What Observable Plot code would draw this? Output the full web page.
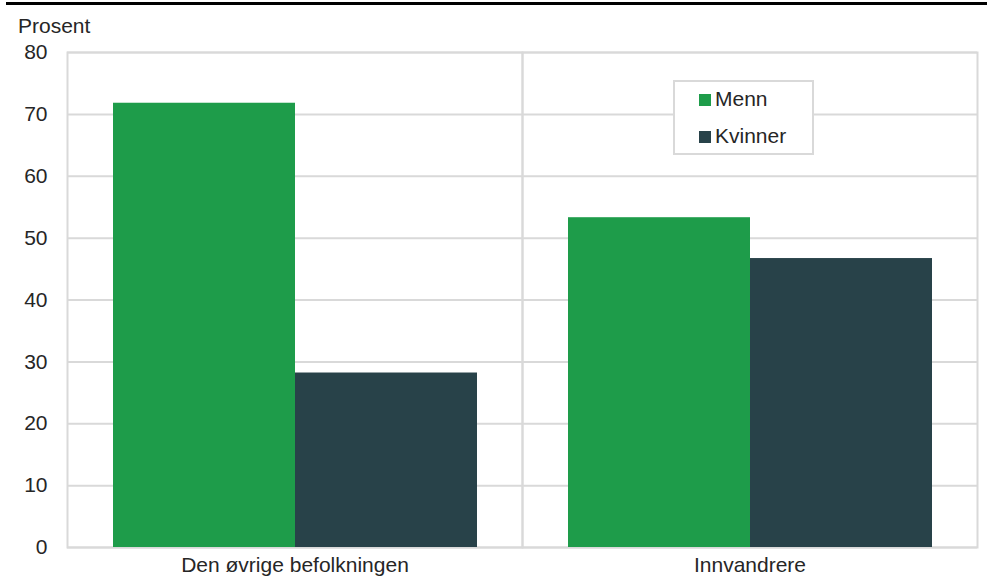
<!DOCTYPE html>
<html>
<head>
<meta charset="utf-8">
<script src="https://cdn.jsdelivr.net/npm/d3@7"></script>
<script src="https://cdn.jsdelivr.net/npm/@observablehq/plot@0.6"></script>
<style>
  html, body { margin: 0; padding: 0; background: #fff; }
  #wrap { position: relative; width: 987px; height: 577px; overflow: hidden; font-family: "Liberation Sans", Arial, sans-serif; color: #262626; }
  #wrap svg { position: absolute; left: 0; top: 0; }
  .abs { position: absolute; }
  .txt { font-size: 21px; line-height: 21px; white-space: nowrap; }
</style>
</head>
<body>
<div id="wrap"></div>
<script>
const categories = ["Den øvrige befolkningen", "Innvandrere"];
const series = ["Menn", "Kvinner"];
const menn = [71.8, 53.3];
const kvinner = [28.2, 46.7];
const yTicks = [0, 10, 20, 30, 40, 50, 60, 70, 80];
const colors = ["#1e9c4a", "#284249"];
const yLabel = "Prosent";

const data = categories.flatMap((c, i) => [
  {cat: c, serie: series[0], value: menn[i]},
  {cat: c, serie: series[1], value: kvinner[i]}
]);

const wrap = document.getElementById("wrap");

const chart = Plot.plot({
  width: 987,
  height: 577,
  marginTop: 52,
  marginBottom: 30,
  marginLeft: 67,
  marginRight: 10,
  style: {fontFamily: "Liberation Sans, Arial, sans-serif", fontSize: "21px", color: "#262626", background: "transparent"},
  fx: {domain: categories, padding: 0, label: null, tickSize: 0, tickPadding: 10, axis: "bottom"},
  x: {domain: series, paddingInner: 0, paddingOuter: 0.25, axis: null},
  y: {domain: [0, 80], ticks: yTicks, label: null, tickSize: 0, tickPadding: 20},
  color: {domain: series, range: colors},
  marks: [
    Plot.gridY(yTicks, {stroke: "#d9d9d9", strokeOpacity: 1, strokeWidth: 2}),
    Plot.frame({stroke: "#d9d9d9", strokeWidth: 2}),
    Plot.barY(data, {fx: "cat", x: "serie", y: "value", fill: "serie", insetLeft: 0, insetRight: 0})
  ]
});
wrap.appendChild(chart);

function add(cls, css, text) {
  const d = document.createElement("div");
  d.className = cls;
  Object.assign(d.style, css);
  if (text != null) d.textContent = text;
  wrap.appendChild(d);
  return d;
}

// top rule
add("abs", {left: "6px", top: "2px", width: "981px", height: "3px", background: "#000"});
// y label
add("abs txt", {left: "18px", top: "15px"}, yLabel);
// legend
add("abs", {left: "673px", top: "80px", width: "137px", height: "71px", border: "2px solid #d9d9d9", background: "#fff"});
const rows = [{sq: 94, tx: 88}, {sq: 131, tx: 125}];
series.forEach((s, i) => {
  add("abs", {left: "699px", top: rows[i].sq + "px", width: "12px", height: "12px", background: colors[i]});
  add("abs txt", {left: "715px", top: rows[i].tx + "px"}, s);
});
</script>
</body>
</html>
